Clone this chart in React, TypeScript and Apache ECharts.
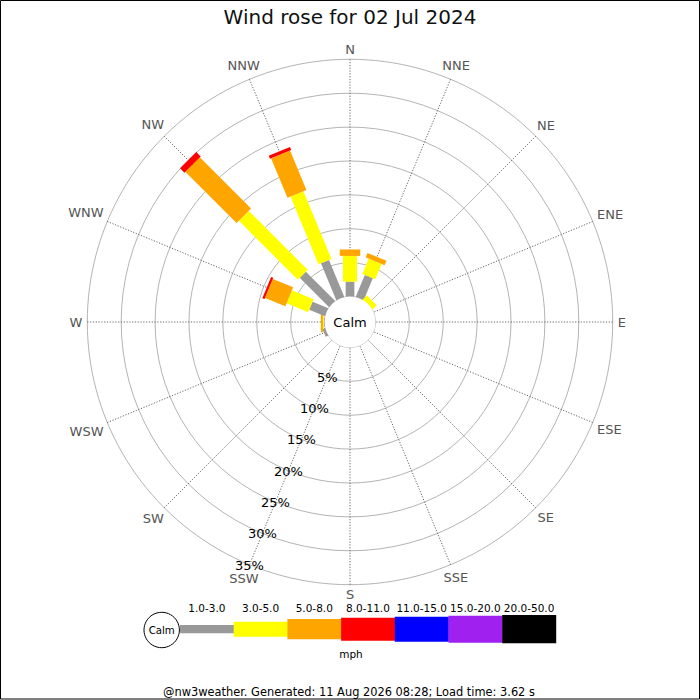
import React, { useEffect, useRef } from 'react';
import * as echarts from 'echarts';

const titleText = 'Wind rose for 02 Jul 2024';
const footerText = '@nw3weather. Generated: 11 Aug 2026 08:28; Load time: 3.62 s';
const unitText = 'mph';
const calmText = 'Calm';

const directions = ['N', 'NNE', 'NE', 'ENE', 'E', 'ESE', 'SE', 'SSE', 'S', 'SSW', 'SW', 'WSW', 'W', 'WNW', 'NW', 'NNW'];
const directionAngles = [0, 22.5, 45, 67.5, 90, 112.5, 135, 157.5, 180, 202.5, 225, 247.5, 270, 292.5, 315, 337.5];

const speedBins = ['1.0-3.0', '3.0-5.0', '5.0-8.0', '8.0-11.0', '11.0-15.0', '15.0-20.0', '20.0-50.0'];

// percentage of time per direction, per speed bin (order follows `directions`)
const pct1to3 = [2.2, 3.5, 0, 0, 0, 0, 0, 0, 0, 0, 0, 0.4, 0.1, 2.5, 6.1, 5.9];
const pct3to5 = [3.8, 2.45, 0.8, 0, 0, 0, 0, 0, 0, 0, 0, 0, 0.15, 3.45, 12.3, 10.8];
const pct5to8 = [0.95, 0.7, 0, 0, 0, 0, 0, 0, 0, 0, 0, 0, 0.3, 3.25, 10.7, 6.3];
const pct8to11 = [0, 0, 0, 0, 0, 0, 0, 0, 0, 0, 0, 0, 0, 0.35, 0.9, 0.5];
const pct11to15 = [0, 0, 0, 0, 0, 0, 0, 0, 0, 0, 0, 0, 0, 0, 0, 0];
const pct15to20 = [0, 0, 0, 0, 0, 0, 0, 0, 0, 0, 0, 0, 0, 0, 0, 0];
const pct20to50 = [0, 0, 0, 0, 0, 0, 0, 0, 0, 0, 0, 0, 0, 0, 0, 0];

const percentTicks = [5, 10, 15, 20, 25, 30, 35];
const percentLabelAngle = 202.5;

// styles
const binColors = ['#999999', '#ffff00', '#ffa500', '#ff0000', '#0000ff', '#a020f0', '#000000'];
const barWidths = [8.7, 14, 20.5, 23, 25, 27, 28.3];
const legendHeights = [8.3, 15, 20.3, 23, 25, 27, 28.3];
const FONT = '"DejaVu Sans", "Liberation Sans", sans-serif';

const measureCtx: CanvasRenderingContext2D | null =
  typeof document !== 'undefined' ? document.createElement('canvas').getContext('2d') : null;
function textWidth(s: string, size: number) {
  if (!measureCtx) return s.length * size * 0.65;
  measureCtx.font = `${size}px ${FONT}`;
  return measureCtx.measureText(s).width;
}

function buildOption() {
  const bins = [pct1to3, pct3to5, pct5to8, pct8to11, pct11to15, pct15to20, pct20to50];
  const segments: number[][] = [];
  directionAngles.forEach((ang, i) => {
    let start = 0;
    bins.forEach((arr, b) => {
      const v = arr[i];
      if (v > 0) {
        segments.push([start, start + v, ang, b]);
        start += v;
      }
    });
  });

  const cx = 350;
  const cy = 322;
  const innerR = 25.4;
  const outerR = 262.7;

  const legendLeft = 180;
  const legendCellW = 53.7;
  const legendMidY = 629.2;

  const legendEls: any[] = [];
  speedBins.forEach((name, b) => {
    const h = legendHeights[b];
    legendEls.push({
      type: 'rect',
      shape: { x: legendLeft + b * legendCellW, y: legendMidY - h / 2, width: legendCellW + 0.3, height: h },
      style: { fill: binColors[b] },
      z: 10,
    });
    legendEls.push({
      type: 'text',
      x: legendLeft + (b + 0.5) * legendCellW,
      y: 607.5,
      style: {
        text: name, fill: '#000', fontSize: 10.5, fontFamily: FONT,
        align: 'center', verticalAlign: 'middle', textAlign: 'center', textVerticalAlign: 'middle',
      },
      z: 10,
    });
  });

  return {
    animation: false,
    backgroundColor: '#ffffff',
    polar: { center: [cx, cy], radius: [innerR, outerR] },
    angleAxis: {
      type: 'value', min: 0, max: 360, interval: 22.5, startAngle: 90, clockwise: true,
      axisLine: { show: false }, axisTick: { show: false }, axisLabel: { show: false },
      splitLine: { show: true, lineStyle: { color: '#555555', width: 0.9, type: [1.2, 1.6] } },
      splitArea: { show: false },
    },
    radiusAxis: {
      type: 'value', min: 0, max: 35, interval: 5,
      axisLine: { show: false }, axisTick: { show: false }, axisLabel: { show: false },
      splitLine: { show: true, showMinLine: false, lineStyle: { color: '#b4b4b4', width: 1 } },
    },
    series: [
      {
        type: 'custom',
        coordinateSystem: 'polar',
        data: segments,
        encode: { radius: [0, 1], angle: 2 },
        z: 3,
        renderItem: (params: any, api: any) => {
          const r0 = api.value(0);
          const r1 = api.value(1);
          const ang = api.value(2);
          const b = api.value(3);
          const pa = api.coord([0, ang]);
          const pb = api.coord([35, ang]);
          const dx = pb[0] - pa[0];
          const dy = pb[1] - pa[1];
          const len = Math.hypot(dx, dy) || 1;
          const ux = dx / len;
          const uy = dy / len;
          let p0 = api.coord([r0, ang]);
          const p1 = api.coord([r1, ang]);
          if (r0 === 0) p0 = [p0[0] - ux * 8, p0[1] - uy * 8];
          const hw = barWidths[b] / 2;
          const nx = -uy * hw;
          const ny = ux * hw;
          return {
            type: 'polygon',
            shape: {
              points: [
                [p0[0] + nx, p0[1] + ny],
                [p1[0] + nx, p1[1] + ny],
                [p1[0] - nx, p1[1] - ny],
                [p0[0] - nx, p0[1] - ny],
              ],
            },
            style: { fill: binColors[b] },
          };
        },
      },
      {
        type: 'custom',
        coordinateSystem: 'polar',
        data: directionAngles.map((a) => [35, a]),
        z: 4,
        renderItem: (params: any, api: any) => {
          const ang = api.value(1);
          const name = directions[params.dataIndex];
          const pa = api.coord([0, ang]);
          const pb = api.coord([35, ang]);
          const dx = pb[0] - pa[0];
          const dy = pb[1] - pa[1];
          const len = Math.hypot(dx, dy) || 1;
          const ux = dx / len;
          const uy = dy / len;
          const w = textWidth(name, 13);
          const off = 5 + Math.abs(ux) * w / 2 + Math.abs(uy) * 4.5;
          return {
            type: 'text',
            x: pb[0] + ux * off,
            y: pb[1] + uy * off,
            style: {
              text: name, fill: '#555555', fontSize: 13, fontFamily: FONT,
              align: 'center', verticalAlign: 'middle', textAlign: 'center', textVerticalAlign: 'middle',
            },
          };
        },
      },
      {
        type: 'custom',
        coordinateSystem: 'polar',
        data: percentTicks.map((v) => [v, percentLabelAngle]),
        z: 5,
        renderItem: (params: any, api: any) => {
          const p = api.coord([api.value(0), api.value(1)]);
          return {
            type: 'text',
            x: p[0],
            y: p[1] + 0.5,
            style: {
              text: `${api.value(0)}%`, fill: '#000', fontSize: 13, fontFamily: FONT,
              align: 'center', verticalAlign: 'middle', textAlign: 'center', textVerticalAlign: 'middle',
            },
          };
        },
      },
    ],
    graphic: [
      {
        type: 'rect', shape: { x: 0.5, y: 0.5, width: 699, height: 698.5 },
        style: { fill: 'none', stroke: '#000', lineWidth: 1 }, z: 100,
      },
      {
        type: 'text', x: 350, y: 17,
        style: {
          text: titleText, fill: '#111', fontSize: 20, fontFamily: FONT,
          align: 'center', verticalAlign: 'middle', textAlign: 'center', textVerticalAlign: 'middle',
        },
        z: 10,
      },
      {
        type: 'circle', shape: { cx, cy, r: innerR }, style: { fill: '#fff', stroke: 'none' }, z: 50,
      },
      {
        type: 'text', x: cx, y: cy + 0.5,
        style: {
          text: calmText, fill: '#000', fontSize: 13, fontFamily: FONT,
          align: 'center', verticalAlign: 'middle', textAlign: 'center', textVerticalAlign: 'middle',
        },
        z: 51,
      },
      {
        type: 'circle', shape: { cx: 161.7, cy: 630, r: 17.7 },
        style: { fill: '#fff', stroke: '#000', lineWidth: 1 }, z: 11,
      },
      {
        type: 'text', x: 161.7, y: 630.5,
        style: {
          text: calmText, fill: '#000', fontSize: 10.2, fontFamily: FONT,
          align: 'center', verticalAlign: 'middle', textAlign: 'center', textVerticalAlign: 'middle',
        },
        z: 12,
      },
      ...legendEls,
      {
        type: 'text', x: 351, y: 654,
        style: {
          text: unitText, fill: '#000', fontSize: 10.5, fontFamily: FONT,
          align: 'center', verticalAlign: 'middle', textAlign: 'center', textVerticalAlign: 'middle',
        },
        z: 10,
      },
      {
        type: 'text', x: 349, y: 692,
        style: {
          text: footerText, fill: '#000', fontSize: 11.4, fontFamily: FONT,
          align: 'center', verticalAlign: 'middle', textAlign: 'center', textVerticalAlign: 'middle',
        },
        z: 10,
      },
    ],
  };
}

export default function App() {
  const ref = useRef<HTMLDivElement>(null);
  useEffect(() => {
    if (!ref.current) return;
    const chart = echarts.init(ref.current, null, { renderer: 'svg' });
    chart.setOption(buildOption() as any);
    return () => {
      chart.dispose();
    };
  }, []);
  return (
    <div
      ref={ref}
      style={{ position: 'fixed', left: 0, top: 0, width: 700, height: 700, background: '#fff' }}
    />
  );
}
